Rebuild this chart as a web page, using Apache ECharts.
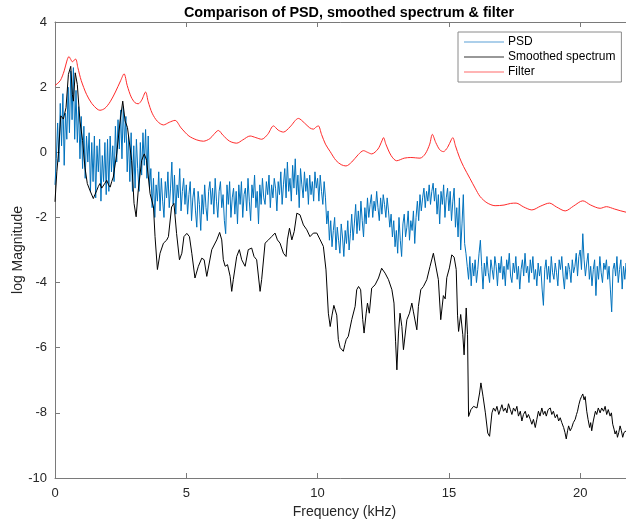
<!DOCTYPE html>
<html>
<head>
<meta charset="utf-8">
<script src="https://cdn.jsdelivr.net/npm/echarts@6/dist/echarts.min.js"></script>
<style>html,body{margin:0;padding:0;background:#fff;}#c{width:626px;height:523px;}</style>
</head>
<body>
<div id="c"></div>
<script>
// ---- data (frequency in kHz, log magnitude) ----
const xTicks = [0, 5, 10, 15, 20];
const yTicks = [-10, -8, -6, -4, -2, 0, 2, 4];
const psdStep = 0.05; // kHz between PSD bins
const psdValues = [
 -1.0, -0.2, 0.9, -0.3, 1.5, 0.2, 1.8, -0.4, 1.2, 0.4, 2.0, 0.6, 2.5, 1.0, 2.6, 0.4, 1.9, 0.3, 1.4, -0.2,
 1.1, -0.5, 0.8, -0.8, 0.5, -0.3, 0.6, -1.2, 0.3, -0.9, 0.5, -1.4, 0.2, -0.6, 0.4, -1.5, -0.1, -0.9, 0.3, -1.3,
 0.4, -1.2, 0.5, -0.6, 0.2, -0.9, 0.8, -0.3, 1.0, 0.1, 1.3, -0.2, 1.4, 0.3, 1.1, -0.6, 0.5, -0.9, 0.6, -1.2,
 0.2, -1.1, 0.4, -0.5, -1.2, 0.3, -0.7, 0.6, -0.4, 0.7, -0.8, 0.5, -1.1, -0.5, -1.7, -0.8, -2.0, -1.0, -1.5, -0.6,
 -1.8, -0.8, -1.5, -2.0, -0.9, -1.4, -0.6, -1.7, -1.1, -0.3, -1.6, -0.7, -1.9, -1.0, -1.4, -0.5, -1.8, -1.2, -0.8, -1.6,
 -1.0, -1.9, -1.3, -0.9, -2.1, -1.4, -1.1, -1.8, -2.3, -1.2, -1.6, -2.4, -1.3, -1.9, -1.0, -1.7, -2.1, -1.2, -0.9, -1.6,
 -1.1, -1.9, -0.8, -1.5, -2.0, -1.2, -0.9, -1.7, -1.3, -2.1, -2.5, -1.0, -1.6, -0.9, -2.0, -1.4, -1.1, -1.9, -1.2, -2.2,
 -1.0, -1.6, -0.9, -2.0, -1.3, -1.1, -1.8, -0.8, -1.5, -2.1, -1.0, -1.4, -0.7, -1.7, -1.2, -2.2, -1.0, -1.6, -0.8, -1.4,
 -1.6, -0.9, -1.3, -0.7, -1.7, -1.0, -1.4, -0.8, -1.1, -1.8, -0.9, -1.3, -0.6, -1.6, -1.0, -0.5, -1.4, -0.3, -1.2, -0.8,
 -1.5, -0.4, -1.1, -0.2, -1.3, -0.7, -1.7, -0.5, -1.0, -1.4, -0.6, -1.2, -0.8, -1.6, -0.7, -1.3, -0.9, -1.5, -0.6, -1.1,
 -0.8, -1.5, -0.7, -1.2, -1.6, -0.9, -1.4, -2.2, -1.8, -2.7, -2.1, -2.9, -2.4, -2.0, -3.0, -2.3, -2.7, -3.1, -2.2, -2.6,
 -3.2, -2.4, -2.8, -2.1, -3.0, -2.5, -1.9, -2.7, -2.2, -1.6, -2.5, -1.8, -2.4, -1.5, -2.1, -2.6, -1.7, -2.2, -1.4, -2.0,
 -1.6, -1.3, -2.0, -1.5, -1.8, -1.2, -1.7, -2.1, -1.4, -1.9, -1.3, -1.6, -2.0, -1.4, -1.8, -2.3, -1.9, -2.6, -2.1, -2.9,
 -2.4, -3.1, -2.0, -2.7, -3.2, -2.2, -1.9, -2.6, -2.3, -1.8, -2.7, -2.1, -2.4, -1.8, -2.8, -2.0, -1.5, -2.1, -1.3, -1.8,
 -1.4, -1.1, -1.7, -1.2, -1.5, -1.0, -1.6, -1.2, -0.95, -1.5, -1.1, -1.9, -1.3, -2.2, -1.2, -1.6, -1.0, -2.0, -1.4, -1.1,
 -1.8, -1.2, -2.1, -1.5, -1.1, -2.3, -1.7, -2.6, -1.4, -3.0, -2.2, -1.3, -2.8, -3.1, -3.5, -3.9, -3.2, -4.1, -3.4, -3.8,
 -3.3, -4.0, -3.6, -3.1, -2.7, -3.5, -4.2, -3.4, -3.8, -3.2, -3.7, -4.0, -3.3, -3.6, -3.9, -3.2, -3.5, -4.1, -3.4, -3.7,
 -3.2, -3.9, -3.5, -4.1, -3.3, -3.6, -3.1, -3.8, -4.0, -3.4, -3.7, -3.2, -3.9, -3.5, -4.2, -3.6, -3.3, -3.8, -3.1, -3.7,
 -3.5, -4.0, -3.3, -3.7, -3.2, -3.9, -3.6, -4.1, -3.4, -3.8, -3.5, -4.2, -4.7, -3.6, -3.3, -3.9, -3.5, -4.0, -3.2, -3.7,
 -3.9, -3.4, -3.7, -4.1, -3.3, -3.6, -3.2, -3.8, -4.2, -3.5, -3.9, -3.4, -3.6, -4.0, -3.3, -3.7, -3.5, -3.1, -3.8, -3.2,
 -3.0, -3.6, -2.5, -3.3, -3.8, -3.4, -3.1, -3.9, -3.5, -4.1, -3.6, -3.3, -4.4, -3.5, -3.9, -3.2, -3.7, -4.0, -3.4, -3.6,
 -3.3, -3.9, -3.5, -4.2, -4.9, -3.6, -3.4, -3.8, -3.2, -4.0, -3.6, -3.3, -4.2, -3.5, -3.9, -3.4, -4.0, -3.6
];
const smoothed = [
 [0,-1.52],[0.07,-0.6],[0.13,-0.05],[0.22,1.12],[0.32,1.02],[0.42,1.37],[0.51,2.39],[0.6,2.64],[0.66,1.78],[0.7,1.57],
 [0.77,2.44],[0.85,2.08],[0.95,0.96],[1.05,0.36],[1.14,-0.46],[1.23,-0.96],[1.33,-1.17],[1.46,-1.42],[1.52,-1.3],[1.59,-1.17],
 [1.65,-1.05],[1.71,-0.96],[1.78,-1.1],[1.84,-1.07],[1.9,-0.95],[1.97,-0.86],[2.04,-1.0],[2.1,-1.07],[2.16,-0.9],[2.22,-0.76],
 [2.35,-0.05],[2.48,0.96],[2.58,1.57],[2.67,0.96],[2.76,0.76],[2.83,0.8],[2.92,-0.25],[3.01,-1.57],[3.09,-1.98],[3.17,-1.17],
 [3.3,-0.25],[3.4,-0.05],[3.49,-0.25],[3.62,-1.27],[3.75,-1.68],[3.81,-2.59],[3.9,-3.6],[4.0,-3.1],[4.13,-2.79],[4.25,-2.7],
 [4.32,-2.59],[4.44,-1.68],[4.53,-1.57],[4.63,-2.49],[4.74,-3.3],[4.83,-3.1],[4.91,-2.59],[5.02,-2.49],[5.12,-2.59],[5.21,-3.1],
 [5.33,-3.86],[5.46,-3.5],[5.59,-3.25],[5.68,-3.3],[5.78,-3.81],[5.84,-3.81],[5.97,-2.99],[6.16,-2.69],[6.27,-2.46],[6.35,-2.69],
 [6.41,-3.3],[6.48,-3.5],[6.57,-3.45],[6.67,-3.81],[6.73,-4.27],[6.79,-3.91],[6.92,-3.2],[7.02,-2.99],[7.11,-3.3],[7.24,-3.5],
 [7.36,-2.99],[7.49,-2.94],[7.58,-3.2],[7.68,-3.3],[7.81,-4.27],[7.87,-3.91],[8.0,-2.79],[8.13,-2.69],[8.25,-2.59],[8.38,-2.48],
 [8.47,-2.69],[8.57,-2.79],[8.7,-3.1],[8.8,-3.2],[8.85,-2.69],[8.93,-2.33],[9.02,-2.69],[9.11,-2.43],[9.21,-1.87],[9.33,-1.92],
 [9.46,-2.23],[9.59,-2.38],[9.71,-2.59],[9.84,-2.48],[9.97,-2.48],[10.1,-2.69],[10.22,-2.89],[10.32,-3.61],[10.41,-4.94],[10.48,-5.35],
 [10.55,-5.0],[10.62,-4.7],[10.67,-4.68],[10.73,-5.0],[10.79,-5.75],[10.86,-6.0],[10.92,-5.96],[10.98,-6.11],[11.04,-5.9],[11.09,-5.75],
 [11.17,-5.65],[11.3,-5.14],[11.43,-4.73],[11.49,-4.22],[11.56,-4.12],[11.64,-4.22],[11.72,-5.14],[11.77,-5.55],[11.85,-4.94],[11.9,-4.63],
 [11.97,-4.94],[12.06,-4.17],[12.19,-4.07],[12.32,-3.86],[12.44,-3.56],[12.57,-3.71],[12.7,-3.91],[12.83,-4.22],[12.91,-4.63],[12.97,-5.8],
 [13.02,-6.68],[13.08,-5.55],[13.14,-4.94],[13.21,-5.35],[13.27,-6.06],[13.4,-5.14],[13.5,-4.94],[13.59,-4.63],[13.65,-4.9],[13.78,-5.45],
 [13.84,-4.73],[13.93,-4.22],[14.03,-4.12],[14.16,-3.91],[14.28,-3.51],[14.41,-3.1],[14.48,-3.05],[14.6,-3.91],[14.69,-5.14],[14.79,-4.4],
 [14.86,-4.5],[14.92,-3.85],[15.02,-3.55],[15.11,-3.15],[15.2,-3.22],[15.28,-3.6],[15.33,-5.0],[15.37,-5.5],[15.45,-4.98],[15.53,-5.6],
 [15.58,-6.22],[15.66,-4.78],[15.71,-5.6],[15.75,-8.11],[15.84,-7.9],[15.94,-7.8],[16.07,-7.85],[16.17,-7.39],[16.22,-7.08],[16.3,-7.49],
 [16.39,-8.0],[16.48,-8.62],[16.55,-8.72],[16.64,-8.0],[16.7,-7.85],[16.77,-7.95],[16.83,-7.8],[16.9,-8.05],[16.96,-7.9],[17.02,-7.75],
 [17.08,-7.95],[17.15,-7.85],[17.21,-8.0],[17.27,-7.72],[17.34,-7.9],[17.4,-8.05],[17.46,-7.85],[17.53,-7.95],[17.59,-7.8],[17.65,-8.1],
 [17.72,-7.95],[17.78,-8.25],[17.84,-8.05],[17.91,-7.95],[17.97,-8.15],[18.03,-8.05],[18.1,-8.2],[18.16,-8.35],[18.22,-8.2],[18.29,-8.45],
 [18.35,-8.2],[18.41,-7.95],[18.47,-8.1],[18.54,-7.85],[18.6,-8.05],[18.66,-7.95],[18.71,-8.1],[18.78,-7.9],[18.86,-7.85],[18.92,-8.05],
 [18.98,-7.95],[19.05,-8.15],[19.12,-8.05],[19.18,-8.25],[19.24,-8.15],[19.3,-8.3],[19.37,-8.45],[19.42,-8.6],[19.47,-8.8],[19.52,-8.55],
 [19.56,-8.4],[19.62,-8.55],[19.68,-8.45],[19.74,-8.3],[19.81,-8.2],[19.86,-8.05],[19.9,-7.95],[19.95,-7.75],[20.0,-7.6],[20.05,-7.5],
 [20.1,-7.42],[20.15,-7.6],[20.19,-7.5],[20.25,-7.95],[20.3,-8.2],[20.36,-8.45],[20.4,-8.3],[20.44,-8.55],[20.5,-8.25],[20.53,-8.2],
 [20.58,-7.95],[20.63,-8.05],[20.69,-7.85],[20.76,-8.0],[20.82,-7.85],[20.89,-7.95],[20.95,-7.8],[21.01,-8.05],[21.07,-7.9],[21.14,-8.1],
 [21.19,-8.0],[21.24,-8.35],[21.29,-8.5],[21.33,-8.65],[21.38,-8.55],[21.42,-8.75],[21.47,-8.6],[21.52,-8.4],[21.57,-8.55],[21.62,-8.75],
 [21.67,-8.6],[21.71,-8.65],[21.76,-8.55],[21.82,-8.75],[21.9,-8.6],[22.0,-8.7]
];
const filter = [
 [0,2.05],[0.2,2.2],[0.35,2.5],[0.45,2.8],[0.53,2.94],[0.6,2.85],[0.66,2.78],[0.72,2.82],[0.79,2.86],[0.87,2.6],
 [1.0,2.2],[1.2,1.78],[1.4,1.5],[1.6,1.33],[1.71,1.29],[1.9,1.35],[2.1,1.55],[2.3,1.85],[2.5,2.2],[2.63,2.41],
 [2.75,2.05],[2.9,1.7],[3.05,1.52],[3.17,1.49],[3.3,1.6],[3.45,1.85],[3.55,1.55],[3.7,1.2],[3.9,0.95],[4.13,0.84],
 [4.35,0.92],[4.57,0.98],[4.8,0.75],[5.1,0.5],[5.4,0.38],[5.65,0.34],[5.9,0.42],[6.05,0.55],[6.22,0.67],[6.4,0.52],
 [6.65,0.34],[6.92,0.28],[7.15,0.38],[7.43,0.5],[7.65,0.45],[7.87,0.4],[8.1,0.55],[8.32,0.81],[8.5,0.68],[8.7,0.62],
 [8.95,0.78],[9.27,1.04],[9.5,0.9],[9.7,0.75],[9.84,0.71],[9.95,0.78],[10.03,0.81],[10.15,0.55],[10.3,0.25],[10.48,0.02],
 [10.7,-0.25],[10.9,-0.38],[11.08,-0.42],[11.3,-0.3],[11.55,-0.07],[11.75,0.05],[11.9,0.0],[12.06,-0.05],[12.3,0.1],[12.45,0.35],
 [12.51,0.45],[12.6,0.25],[12.8,-0.1],[13.01,-0.26],[13.3,-0.18],[13.55,-0.16],[13.9,-0.18],[14.1,-0.05],[14.27,0.25],[14.37,0.55],
 [14.5,0.3],[14.65,0.08],[14.79,0.02],[14.95,0.15],[15.1,0.4],[15.15,0.45],[15.25,0.2],[15.4,-0.15],[15.56,-0.44],[15.8,-0.8],
 [16.0,-1.1],[16.19,-1.36],[16.45,-1.55],[16.76,-1.64],[17.1,-1.62],[17.35,-1.57],[17.56,-1.56],[17.85,-1.68],[18.16,-1.77],[18.5,-1.65],
 [18.83,-1.56],[19.1,-1.68],[19.43,-1.8],[19.75,-1.65],[20.1,-1.49],[20.4,-1.62],[20.76,-1.72],[21.0,-1.67],[21.3,-1.74],[21.75,-1.84],
 [22.05,-1.86]
];
const seriesNames = ['PSD', 'Smoothed spectrum', 'Filter'];

// ---- chart ----
const chart = echarts.init(document.getElementById('c'), null, {renderer: 'canvas'});
const font = 'Liberation Sans, Arial, Helvetica, sans-serif';
const axisGray = '#7a7a7a';
const textCol = '#262626';
const psdData = psdValues.map((v, i) => [+(i * psdStep).toFixed(2), v]);

const baseX = {
  type: 'value', min: 0, max: 22.05, interval: 5,
  axisLine: {show: true, onZero: false, lineStyle: {color: axisGray, width: 1}},
  axisTick: {show: true, inside: true, length: 5, lineStyle: {color: axisGray}},
  splitLine: {show: false}
};
chart.setOption({
  animation: false,
  backgroundColor: '#fff',
  title: {
    text: 'Comparison of PSD, smoothed spectrum & filter',
    left: 344, top: 1, textAlign: 'center',
    textStyle: {fontFamily: font, fontSize: 14.4, fontWeight: 'bold', color: '#000'}
  },
  grid: {left: 55, right: -8, top: 22, bottom: 45, containLabel: false, outerBoundsMode: 'none'},
  legend: {
    data: seriesNames.map(n => ({name: n, icon: 'rect'})),
    orient: 'vertical', left: 458, top: 32,
    itemWidth: 40, itemHeight: 1.2, itemGap: 1,
    padding: [3, 6, 3, 6],
    borderColor: '#8a8a8a', borderWidth: 1, backgroundColor: '#fff', borderRadius: 0,
    textStyle: {fontFamily: font, fontSize: 12, color: '#000', lineHeight: 14, padding: [0, 0, 0, -1]}
  },
  xAxis: [
    Object.assign({}, baseX, {
      position: 'bottom',
      name: 'Frequency (kHz)', nameLocation: 'middle', nameGap: 27,
      nameTextStyle: {fontFamily: font, fontSize: 14, color: textCol},
      axisLabel: {fontFamily: font, fontSize: 13, color: textCol, margin: 9,
        customValues: xTicks, formatter: v => String(v)}
    }),
    Object.assign({}, baseX, {position: 'top', axisLabel: {show: false}})
  ],
  yAxis: {
    type: 'value', min: -10, max: 4, interval: 2,
    name: 'log Magnitude', nameLocation: 'middle', nameGap: 30, nameMoveOverlap: false,
    nameTextStyle: {fontFamily: font, fontSize: 14, color: textCol},
    axisLine: {show: true, onZero: false, lineStyle: {color: axisGray, width: 1}},
    axisTick: {show: true, inside: true, length: 5, lineStyle: {color: axisGray}},
    axisLabel: {fontFamily: font, fontSize: 13, color: textCol, margin: 8},
    splitLine: {show: false}
  },
  series: [
    {name: seriesNames[0], type: 'line', data: psdData, showSymbol: false, symbol: 'none',
     lineStyle: {color: '#0072BD', width: 1}, itemStyle: {color: '#5a9fd6'}, sampling: null, z: 1},
    {name: seriesNames[1], type: 'line', data: smoothed, showSymbol: false, symbol: 'none',
     lineStyle: {color: '#000', width: 1}, itemStyle: {color: '#333'}, z: 2},
    {name: seriesNames[2], type: 'line', data: filter, showSymbol: false, symbol: 'none', smooth: 0.3,
     lineStyle: {color: '#ff2a2a', width: 1}, itemStyle: {color: '#ff6a6a'}, z: 3}
  ]
});
</script>
</body>
</html>
